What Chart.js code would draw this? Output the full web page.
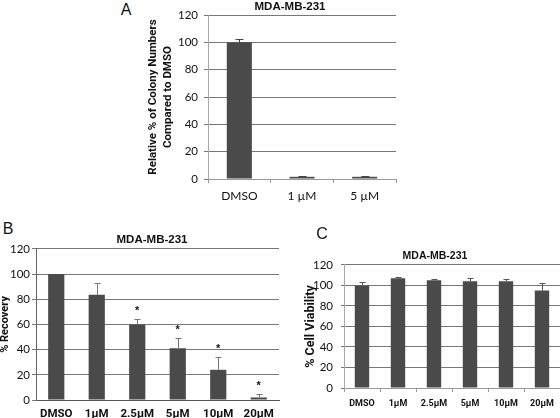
<!DOCTYPE html>
<html>
<head>
<meta charset="utf-8">
<script src="https://cdn.jsdelivr.net/npm/chart.js@4.4.1/dist/chart.umd.min.js"></script>
<style>
  html, body { margin: 0; padding: 0; background: #fff; }
  #wrap { position: relative; width: 560px; height: 418px; overflow: hidden; background: #fff; }
  canvas { position: absolute; }
  .lbl { position: absolute; transform: translate(-50%, -50%); white-space: nowrap; color: #111; }
  .panel { font-family: "Liberation Sans", Arial, sans-serif; font-size: 16px; }
  .ttl { font-family: "Liberation Sans", Arial, sans-serif; font-weight: bold; }
</style>
</head>
<body>
<div id="wrap">
  <canvas id="cA" width="258" height="210" style="left:140px;top:0px;"></canvas>
  <canvas id="cB" width="282" height="178" style="left:0px;top:240px;"></canvas>
  <canvas id="cC" width="264" height="168" style="left:296px;top:250px;"></canvas>
  <div class="lbl panel" style="left:126px;top:10px;">A</div>
  <div class="lbl ttl" style="left:290px;top:6px;font-size:11.5px;">MDA-MB-231</div>
  <div class="lbl panel" style="left:8px;top:229px;">B</div>
  <div class="lbl ttl" style="left:152px;top:239px;font-size:11.5px;">MDA-MB-231</div>
  <div class="lbl panel" style="left:322px;top:234px;">C</div>
  <div class="lbl ttl" style="left:435px;top:255px;font-size:10.5px;">MDA-MB-231</div>
</div>
<script>
// ---- data ----
const catsA = ['DMSO', '1 µM', '5 µM'];
const valsA = [100, 1.6, 1.6];
const errA  = [2.4, 0.3, 0.3];

const catsB = ['DMSO', '1µM', '2.5µM', '5µM', '10µM', '20µM'];
const valsB = [100, 83.5, 60, 41, 24, 2];
const errB  = [0, 9.5, 4, 8, 10, 3];
const sigB  = [false, false, true, true, true, true];

const catsC = ['DMSO', '1µM', '2.5µM', '5µM', '10µM', '20µM'];
const valsC = [100, 107, 105, 104, 104, 95];
const errC  = [3, 1, 1.5, 3, 2, 7];

const yMin = 0, yMax = 120, yStep = 20;

const titleA = ['Relative % of Colony Numbers', 'Compared to DMSO'];
const titleB = '% Recovery';
const titleC = '% Cell Viability';

// ---- helpers ----
const BAR = '#4a4a4a';
const GRID = '#777777';
const BOLDFAM = 'Roboto';

function errorPlugin(errs, color, cap, stars) {
  return {
    id: 'errs',
    afterDatasetsDraw(chart) {
      const meta = chart.getDatasetMeta(0);
      const ys = chart.scales.y;
      const ctx = chart.ctx;
      const data = chart.data.datasets[0].data;
      ctx.save();
      meta.data.forEach((el, i) => {
        const e = errs[i];
        const yTop = ys.getPixelForValue(data[i] + e);
        if (e > 0) {
          ctx.strokeStyle = color;
          ctx.lineWidth = 1;
          ctx.beginPath();
          ctx.moveTo(Math.round(el.x) + 0.5, el.y);
          ctx.lineTo(Math.round(el.x) + 0.5, Math.round(yTop) + 0.5);
          ctx.moveTo(Math.round(el.x - cap) + 0.5, Math.round(yTop) + 0.5);
          ctx.lineTo(Math.round(el.x + cap) + 0.5, Math.round(yTop) + 0.5);
          ctx.stroke();
        }
        if (stars && stars[i]) {
          ctx.fillStyle = '#111';
          ctx.font = 'bold 11px "Liberation Sans", Arial, sans-serif';
          ctx.textAlign = 'center';
          ctx.textBaseline = 'middle';
          ctx.fillText('*', el.x, yTop - 8);
        }
      });
      ctx.restore();
    }
  };
}

function makeChart(id, cfg) {
  return new Chart(document.getElementById(id), {
    type: 'bar',
    data: {
      labels: cfg.labels,
      datasets: [{
        data: cfg.values,
        backgroundColor: BAR,
        borderWidth: 0,
        barPercentage: 0.4,
        categoryPercentage: 1.0
      }]
    },
    options: {
      responsive: false,
      animation: false,
      devicePixelRatio: 1,
      layout: { padding: cfg.padding },
      plugins: { legend: { display: false }, tooltip: { enabled: false }, title: { display: false } },
      scales: {
        x: {
          offset: true,
          grid: {
            display: cfg.xTicks,
            offset: true,
            drawOnChartArea: false,
            drawTicks: true,
            tickLength: 4,
            color: '#999'
          },
          border: { display: true, color: cfg.xBorder, width: 1 },
          ticks: {
            color: '#111',
            padding: cfg.xPad,
            font: cfg.xFont,
            maxRotation: 0,
            autoSkip: false
          },
          afterFit(s) { s.height = cfg.xHeight; }
        },
        y: {
          min: yMin, max: yMax,
          grid: { color: GRID, lineWidth: 1, drawTicks: true, tickLength: cfg.yTickLen },
          border: { display: true, color: cfg.yBorder, width: 1 },
          ticks: {
            stepSize: yStep,
            color: '#111',
            padding: cfg.yPad,
            font: cfg.yFont
          },
          title: {
            display: true,
            text: cfg.yTitle,
            color: '#111',
            font: cfg.yTitleFont,
            padding: { top: cfg.yTitlePad, bottom: 0 }
          },
          afterFit(s) { s.width = cfg.yWidth; }
        }
      }
    },
    plugins: [errorPlugin(cfg.errs, cfg.errColor, cfg.cap, cfg.stars)]
  });
}

makeChart('cA', {
  labels: catsA, values: valsA, errs: errA, errColor: '#444', cap: 4,
  padding: { top: 15, right: 2, bottom: 0, left: 0 },
  xHeight: 31, yWidth: 68, xTicks: true, xBorder: '#999', yBorder: '#aaa',
  xPad: 6, xFont: { family: 'Lato', size: 12 },
  yTickLen: 4, yPad: 6, yFont: { family: 'Lato', size: 11.5 },
  yTitle: titleA, yTitleFont: { family: BOLDFAM, size: 11.5, weight: 'bold', lineHeight: 15 / 11.5 }, yTitlePad: 6
});

makeChart('cB', {
  labels: catsB, values: valsB, errs: errB, errColor: '#777', cap: 3, stars: sigB,
  padding: { top: 7, right: 3, bottom: 0, left: 0 },
  xHeight: 18, yWidth: 36, xTicks: false, xBorder: '#555', yBorder: '#666',
  xPad: 3, xFont: { family: BOLDFAM, size: 11.5, weight: 'bold' },
  yTickLen: 4, yPad: 2, yFont: { family: 'Lato', size: 11.5 },
  yTitle: titleB, yTitleFont: { family: BOLDFAM, size: 11, weight: 'bold', lineHeight: 1 }, yTitlePad: 0
});

makeChart('cC', {
  labels: catsC, values: valsC, errs: errC, errColor: '#555', cap: 3,
  padding: { top: 14, right: 0, bottom: 0, left: 0 },
  xHeight: 30, yWidth: 48, xTicks: true, xBorder: '#999', yBorder: '#aaa',
  xPad: 6, xFont: { family: BOLDFAM, size: 9, weight: 'bold' },
  yTickLen: 3, yPad: 8, yFont: { family: 'Lato', size: 11.5 },
  yTitle: titleC, yTitleFont: { family: BOLDFAM, size: 12.5, weight: 'bold' }, yTitlePad: 7
});
</script>
</body>
</html>
